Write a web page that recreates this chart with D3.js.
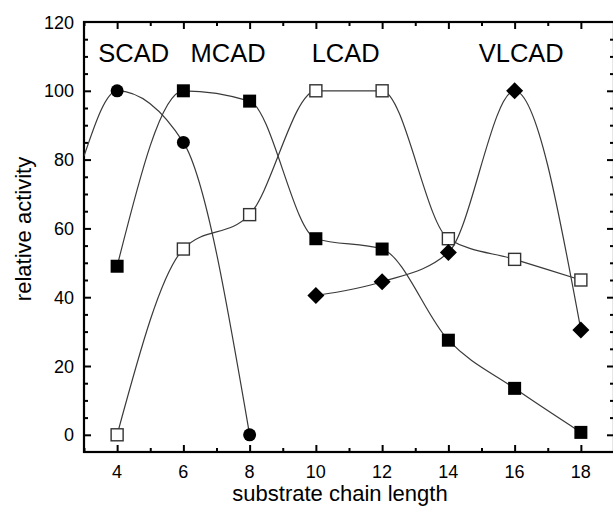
<!DOCTYPE html>
<html><head><meta charset="utf-8">
<script src="https://cdn.jsdelivr.net/npm/d3@7"></script>
<style>
html,body{margin:0;padding:0;background:#fff;}
svg{display:block;font-family:"Liberation Sans",Arial,Helvetica,sans-serif;}
</style></head>
<body><svg id="c" width="613" height="508"></svg>
<script>
// ---- data ----
const chainLengths = [4, 6, 8, 10, 12, 14, 16, 18];
const scadX = [4, 6, 8];
const scadY = [100, 85, 0];
const scadLeadX = 3;      // curve continues to the left frame
const scadLeadY = 81;
const mcadX = [4, 6, 8, 10, 12, 14, 16, 18];
const mcadY = [49, 100, 97, 57, 54, 27.5, 13.5, 0.7];
const lcadX = [4, 6, 8, 10, 12, 14, 16, 18];
const lcadY = [0, 54, 64, 100, 100, 57, 51, 45];
const vlcadX = [10, 12, 14, 16, 18];
const vlcadY = [40.5, 44.5, 53, 100, 30.5];
const xTicks = [4, 6, 8, 10, 12, 14, 16, 18];
const yTicks = [0, 20, 40, 60, 80, 100, 120];
const enzymeLabels = ["SCAD", "MCAD", "LCAD", "VLCAD"];
const enzymeLabelX = [4.5, 7.35, 10.9, 16.2];

// ---- layout ----
const svg = d3.select("#c");
const pL = 84, pR = 614, pT = 22, pB = 452;
const x = d3.scaleLinear().domain([3, 19]).range([pL, pR]);
const y = d3.scaleLinear().domain([-5, 120]).range([pB, pT]);

const ink = "#000";
const lineCol = "#3a3a3a";

svg.append("defs").append("clipPath").attr("id", "plot")
  .append("rect").attr("x", pL).attr("y", pT).attr("width", pR - pL).attr("height", pB - pT);

const xMinor = d3.range(3, 20, 1).filter(v => v % 2 === 1);
const yMinor = d3.range(-5, 121, 5).filter(v => v % 20 !== 0 && v > -5 && v < 120);
const xMajor = xTicks;
const yMajor = yTicks.filter(v => v < 120);

function axis(gen, pos, minorVals, majorVals) {
  const g = svg.append("g").attr("transform", pos);
  g.call(gen.tickValues(minorVals).tickSize(4).tickFormat(""));
  g.select(".domain").remove();
  const g2 = svg.append("g").attr("transform", pos);
  g2.call(gen.tickValues(majorVals).tickSize(7).tickFormat(""));
  g2.select(".domain").remove();
  [g, g2].forEach(s => s.selectAll(".tick line").attr("stroke", ink).attr("stroke-width", 2));
  return g2;
}
axis(d3.axisTop(x).tickSizeOuter(0), `translate(0,${pB})`, xMinor, xMajor);
axis(d3.axisBottom(x).tickSizeOuter(0), `translate(0,${pT})`, xMinor, xMajor);
axis(d3.axisRight(y).tickSizeOuter(0), `translate(${pL},0)`, yMinor, yMajor);
axis(d3.axisLeft(y).tickSizeOuter(0), `translate(${pR},0)`, yMinor, yMajor);

svg.append("g").selectAll("text").data(xTicks).join("text")
  .attr("x", d => x(d)).attr("y", pB + 26)
  .attr("text-anchor", "middle").attr("font-size", 18).attr("fill", ink).text(d => d);
svg.append("g").selectAll("text").data(yTicks).join("text")
  .attr("x", pL - 10).attr("y", d => y(d) + 6.5)
  .attr("text-anchor", "end").attr("font-size", 18).attr("fill", ink).text(d => d);

svg.append("rect").attr("x", pL).attr("y", pT).attr("width", pR - pL).attr("height", pB - pT)
  .attr("fill", "none").attr("stroke", ink).attr("stroke-width", 2.2);

svg.append("text").attr("x", 340).attr("y", 501)
  .attr("text-anchor", "middle").attr("font-size", 22).attr("fill", ink).text("substrate chain length");
svg.append("text").attr("transform", `translate(31,229) rotate(-90)`)
  .attr("text-anchor", "middle").attr("font-size", 22).attr("fill", ink).text("relative activity");

const line = d3.line().x(d => x(d[0])).y(d => y(d[1])).curve(d3.curveMonotoneX);
const zip = (xs, ys) => xs.map((v, i) => [v, ys[i]]);
const plot = svg.append("g").attr("clip-path", "url(#plot)");
const series = [
  [[scadLeadX, scadLeadY]].concat(zip(scadX, scadY)),
  zip(mcadX, mcadY),
  zip(lcadX, lcadY),
  zip(vlcadX, vlcadY)
];
series.forEach(s => plot.append("path").attr("d", line(s))
  .attr("fill", "none").attr("stroke", lineCol).attr("stroke-width", 1.2));

const mk = svg.append("g");
mk.selectAll(".scad").data(zip(scadX, scadY)).join("circle")
  .attr("cx", d => x(d[0])).attr("cy", d => y(d[1])).attr("r", 6.5).attr("fill", ink);
const sq = 13;
mk.selectAll(".mcad").data(zip(mcadX, mcadY)).join("rect")
  .attr("x", d => x(d[0]) - sq / 2).attr("y", d => y(d[1]) - sq / 2)
  .attr("width", sq).attr("height", sq).attr("fill", ink);
mk.selectAll(".lcad").data(zip(lcadX, lcadY)).join("rect")
  .attr("x", d => x(d[0]) - (sq - 1) / 2).attr("y", d => y(d[1]) - (sq - 1) / 2)
  .attr("width", sq - 1).attr("height", sq - 1).attr("fill", "#fff").attr("stroke", "#333").attr("stroke-width", 1.4);
const dm = 8.5;
mk.selectAll(".vlcad").data(zip(vlcadX, vlcadY)).join("path")
  .attr("d", d => { const cx = x(d[0]), cy = y(d[1]);
    return `M${cx},${cy - dm}L${cx + dm},${cy}L${cx},${cy + dm}L${cx - dm},${cy}Z`; })
  .attr("fill", ink);

svg.append("g").selectAll("text").data(enzymeLabels).join("text")
  .attr("x", (d, i) => x(enzymeLabelX[i])).attr("y", 62)
  .attr("text-anchor", "middle").attr("font-size", 25.5).attr("fill", ink).text(d => d);
</script>
</body></html>
